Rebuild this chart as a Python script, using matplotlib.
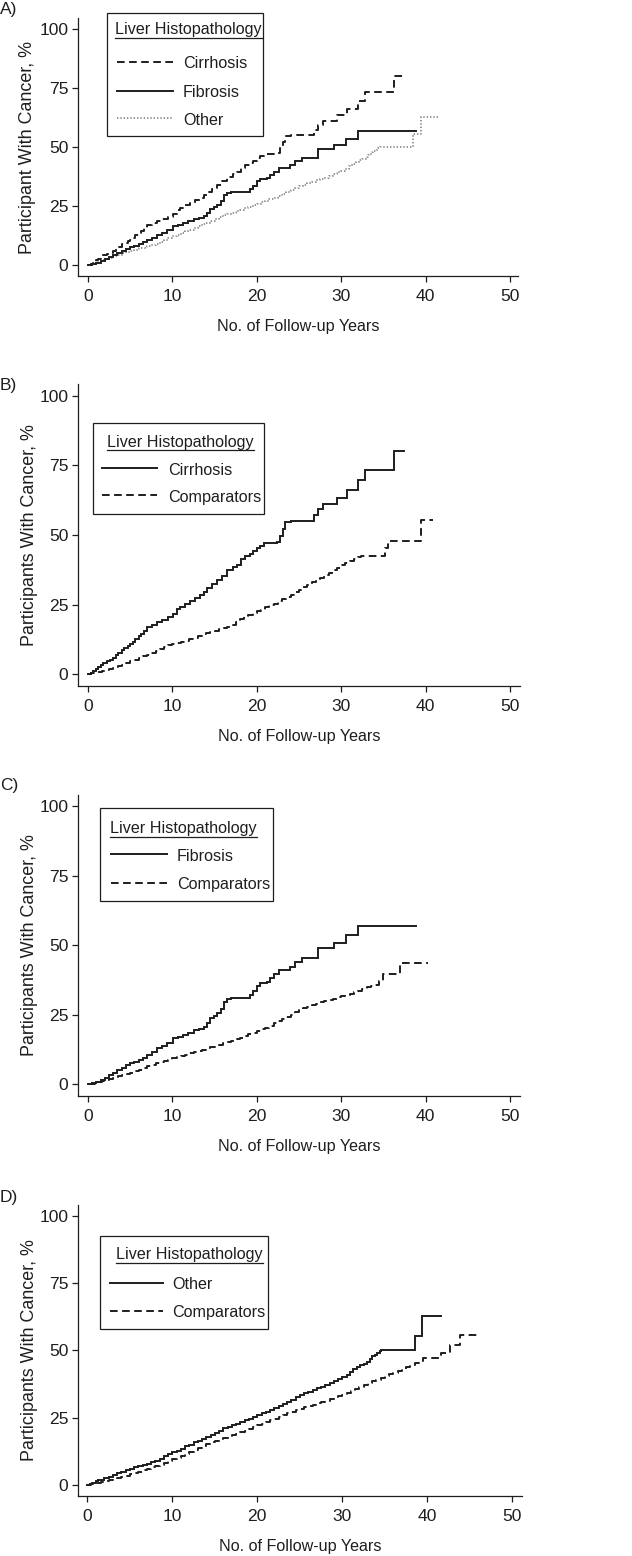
import matplotlib
matplotlib.use("Agg")
import matplotlib.pyplot as plt
from matplotlib.lines import Line2D
from matplotlib.patches import Rectangle

plt.rcParams["font.family"] = ["Liberation Sans", "DejaVu Sans"]
plt.rcParams["lines.scale_dashes"] = False

# ---------------- data ----------------
cirrhosis_t = [0, 0.3, 0.6, 0.9, 1.2, 1.5, 1.8, 2.2, 2.6, 3.0, 3.3, 3.6, 4.0, 4.3, 4.7,
               5.0, 5.3, 5.6, 6.0, 6.3, 6.6, 7.0, 7.6, 8.2, 8.8, 9.5, 10.1, 10.5, 10.9,
               11.5, 12.1, 12.7, 13.3, 13.8, 14.1, 14.7, 15.3, 15.9, 16.5, 17.2, 17.7,
               18.1, 18.6, 19.2, 19.6, 20.0, 20.4, 20.8, 22.4, 22.8, 23.1, 23.4, 24.0,
               26.8, 27.3, 27.8, 29.5, 30.7, 32.0, 32.8, 36.3, 37.4]
cirrhosis_y = [0, 0.6, 1.3, 2.0, 2.6, 3.4, 4.2, 4.6, 5.0, 5.8, 6.8, 7.8, 8.8, 9.5, 10.1,
               10.8, 11.6, 12.6, 13.6, 14.6, 15.6, 16.8, 17.6, 18.6, 19.5, 20.5, 21.6, 23.3,
               24.3, 25.3, 26.3, 27.4, 28.6, 29.5, 31.0, 32.4, 33.8, 35.4, 37.3, 38.5, 39.2,
               41.3, 42.4, 43.2, 44.2, 45.3, 46.2, 47.0, 47.4, 49.5, 52.0, 54.5, 55.2,
               57.0, 59.3, 61.1, 63.4, 66.0, 69.6, 73.3, 80.0, 80.0]

fibrosis_t = [0, 0.5, 1.0, 1.5, 2.0, 2.5, 3.0, 3.4, 4.0, 4.5, 5.0, 5.4, 6.0, 6.5, 7.0,
              7.6, 8.2, 8.8, 9.4, 10.1, 10.7, 11.3, 11.9, 12.5, 13.1, 13.7, 14.1, 14.5,
              14.9, 15.3, 15.7, 16.1, 16.5, 16.9, 19.2, 19.6, 20.0, 20.4, 21.2, 21.6,
              22.0, 22.6, 23.9, 24.5, 25.3, 27.3, 29.1, 30.6, 32.0, 38.9]
fibrosis_y = [0, 0.5, 1.0, 1.6, 2.4, 3.2, 4.2, 5.1, 6.0, 6.8, 7.5, 8.1, 8.8, 9.6, 10.5,
              11.6, 12.9, 13.6, 14.7, 16.5, 17.0, 17.7, 18.5, 19.5, 19.9, 20.7, 22.0, 23.7,
              24.7, 25.5, 27.0, 29.7, 30.5, 30.9, 32.0, 33.5, 35.5, 36.3, 36.9, 38.3,
              39.6, 41.1, 42.3, 44.1, 45.3, 49.1, 50.9, 53.6, 56.9, 56.9]

other_t = [0, 0.3, 0.6, 1.0, 1.3, 1.6, 2.0, 2.5, 3.0, 3.5, 4.0, 4.5, 5.0, 5.5, 6.0, 6.5,
           7.0, 7.5, 8.0, 8.5, 9.0, 9.5, 10.0, 10.5, 11.0, 11.5, 12.0, 12.5, 13.0, 13.5,
           14.0, 14.5, 15.0, 15.5, 16.0, 16.5, 17.0, 17.5, 18.0, 18.5, 19.0, 19.5, 20.0,
           20.5, 21.0, 21.5, 22.0, 22.5, 23.0, 23.5, 24.0, 24.5, 25.0, 25.5, 26.0, 26.5,
           27.0, 27.5, 28.0, 28.5, 29.0, 29.5, 30.0, 30.5, 30.9, 31.3, 31.7, 32.1, 32.5,
           32.9, 33.2, 33.5, 33.8, 34.1, 34.4, 34.6, 38.5, 39.4, 41.6]
other_y = [0, 0.4, 0.9, 1.5, 1.8, 2.0, 2.5, 3.1, 3.7, 4.3, 4.9, 5.5, 6.0, 6.5, 7.0, 7.4,
           7.9, 8.4, 9.0, 9.8, 10.6, 11.6, 12.2, 12.8, 13.5, 14.3, 15.0, 15.8, 16.5, 17.2,
           17.8, 18.5, 19.3, 20.2, 21.0, 21.6, 22.1, 22.8, 23.4, 24.0, 24.6, 25.3, 26.0,
           26.6, 27.1, 27.8, 28.6, 29.3, 30.0, 30.8, 31.7, 32.6, 33.4, 34.0, 34.6, 35.3,
           35.9, 36.4, 37.0, 37.7, 38.5, 39.3, 40.0, 40.8, 42.0, 43.0, 43.8, 44.5, 45.0,
           45.8, 46.8, 47.8, 48.4, 48.9, 49.6, 50.1, 55.3, 62.6, 62.6]

comp_b_t = [0, 0.4, 0.8, 1.2, 1.6, 2.0, 2.5, 3.0, 3.5, 4.0, 4.5, 5.0, 5.5, 6.0, 6.5, 7.0,
            7.5, 8.0, 8.5, 9.0, 9.5, 10.0, 10.5, 11.0, 11.5, 12.0, 12.5, 13.0, 13.5, 14.0,
            14.5, 15.0, 15.5, 16.0, 16.5, 17.0, 17.5, 18.0, 18.5, 19.0, 19.5, 20.0, 20.5,
            21.0, 21.5, 22.0, 22.5, 23.0, 23.5, 24.0, 24.5, 25.0, 25.5, 26.0, 26.5, 27.0,
            27.5, 28.0, 28.5, 29.0, 29.5, 30.0, 30.5, 31.0, 31.5, 32.0, 32.4, 35.2, 35.5,
            39.4, 40.9]
comp_b_y = [0, 0.3, 0.6, 0.9, 1.3, 1.6, 2.0, 2.4, 2.9, 3.5, 4.0, 4.6, 5.2, 5.8, 6.4, 7.0,
            7.6, 8.3, 9.0, 9.7, 10.4, 11.0, 11.3, 11.6, 12.0, 12.6, 13.2, 13.8, 14.3, 14.7,
            15.1, 15.6, 16.1, 16.6, 17.1, 17.8, 18.8, 19.9, 20.8, 21.4, 22.0, 22.6, 23.2,
            24.0, 24.7, 25.4, 26.2, 27.0, 27.7, 28.5, 29.4, 30.3, 31.2, 32.1, 33.0, 33.8,
            34.7, 35.6, 36.5, 37.4, 38.3, 39.2, 40.0, 40.7, 41.4, 42.0, 42.3, 45.3, 47.8,
            55.4, 55.4]

comp_c_t = [0, 0.4, 0.8, 1.2, 1.6, 2.0, 2.5, 3.0, 3.5, 4.0, 4.5, 5.0, 5.5, 6.0, 6.5, 7.0,
            7.5, 8.0, 8.5, 9.0, 9.5, 10.0, 10.5, 11.0, 11.5, 12.0, 12.5, 13.0, 13.5, 14.0,
            14.5, 15.0, 15.5, 16.0, 16.5, 17.0, 17.5, 18.0, 18.5, 19.0, 19.5, 20.0, 20.5,
            21.0, 21.5, 22.0, 22.5, 23.0, 23.5, 24.0, 24.5, 25.0, 25.5, 26.0, 26.5, 27.0,
            27.5, 28.0, 28.5, 29.0, 29.5, 30.0, 30.5, 31.0, 31.5, 32.0, 32.5, 33.0, 33.5,
            34.0, 34.5, 35.0, 37.0, 40.3]
comp_c_y = [0, 0.2, 0.5, 0.8, 1.1, 1.4, 1.9, 2.4, 2.9, 3.3, 3.8, 4.2, 4.7, 5.3, 5.8, 6.4,
            7.0, 7.5, 7.9, 8.3, 8.8, 9.3, 9.7, 10.2, 10.7, 11.2, 11.6, 12.0, 12.5, 12.9,
            13.4, 13.8, 14.3, 14.7, 15.2, 15.7, 16.2, 16.8, 17.4, 18.0, 18.6, 19.2, 19.8,
            20.4, 21.1, 21.9, 22.6, 23.3, 24.2, 25.0, 25.8, 26.7, 27.3, 27.8, 28.4, 29.0,
            29.5, 29.9, 30.4, 30.8, 31.2, 31.6, 32.0, 32.5, 33.0, 33.6, 34.4, 35.0, 35.3,
            35.8, 37.0, 39.6, 43.7, 43.7]

comp_d_t = [0, 0.4, 0.8, 1.2, 1.6, 2.0, 2.5, 3.0, 3.5, 4.0, 4.5, 5.0, 5.5, 6.0, 6.5, 7.0,
            7.5, 8.0, 8.5, 9.0, 9.5, 10.0, 10.5, 11.0, 11.5, 12.0, 12.5, 13.0, 13.5, 14.0,
            14.5, 15.0, 15.5, 16.0, 16.5, 17.0, 17.5, 18.0, 18.5, 19.0, 19.5, 20.0, 20.5,
            21.0, 21.5, 22.0, 22.5, 23.0, 23.5, 24.0, 24.5, 25.0, 25.5, 26.0, 26.5, 27.0,
            27.5, 28.0, 28.5, 29.0, 29.5, 30.0, 30.5, 31.0, 31.5, 32.0, 32.5, 33.0, 33.5,
            34.0, 34.5, 35.0, 35.5, 36.0, 36.5, 37.0, 37.5, 38.0, 38.5, 39.0, 39.5, 41.6,
            42.7, 43.8, 46.2]
comp_d_y = [0, 0.3, 0.6, 0.9, 1.2, 1.5, 1.9, 2.2, 2.6, 3.0, 3.5, 3.9, 4.4, 4.9, 5.4, 5.9,
            6.5, 7.0, 7.6, 8.3, 8.9, 9.5, 10.1, 10.7, 11.4, 12.1, 12.9, 13.7, 14.4, 15.1,
            15.8, 16.4, 17.0, 17.4, 17.9, 18.4, 18.9, 19.5, 20.2, 20.8, 21.5, 22.1, 22.7,
            23.4, 24.0, 24.6, 25.3, 25.9, 26.6, 27.2, 27.8, 28.4, 28.9, 29.4, 29.8, 30.3,
            30.8, 31.3, 31.8, 32.3, 32.9, 33.5, 34.1, 34.8, 35.6, 36.3, 37.1, 37.8, 38.5,
            39.1, 39.8, 40.5, 41.2, 41.7, 42.3, 43.0, 43.8, 44.6, 45.3, 46.2, 47.0, 49.1,
            52.0, 55.7, 55.7]

x_ticks = [0, 10, 20, 30, 40, 50]
y_ticks = [0, 25, 50, 75, 100]
legend_title = "Liver Histopathology"
x_label = "No. of Follow-up Years"

# ---------------- layout helpers ----------------
W, H = 632, 1556
fig = plt.figure(figsize=(W / 100, H / 100), dpi=100)
fig.patch.set_facecolor("white")
INK = "#1e1e1e"

SOLID = dict(color=INK, lw=1.4, ls="-")
DASHED = dict(color=INK, lw=1.4, ls=(0, (5.5, 3.2)))
DOTTED = dict(color="#8c8c8c", lw=1.3, ls=(0, (1.0, 1.4)))

TXT = 11.6
TICK = 12.6


def fx(x):
    return x / W


def fy(y):
    return 1 - y / H


def make_axes(left, right, top, bottom, x0, x50, y0, y100, ylabel, ylabel_x):
    ax = fig.add_axes([fx(left), fy(bottom), (right - left) / W, (bottom - top) / H])
    sx = (x50 - x0) / 50.0
    sy = (y0 - y100) / 100.0
    ax.set_xlim((left - x0) / sx, (right - x0) / sx)
    ax.set_ylim((y0 - bottom) / sy, (y0 - top) / sy)
    for s in ("top", "right"):
        ax.spines[s].set_visible(False)
    for s in ("left", "bottom"):
        ax.spines[s].set_linewidth(0.9)
        ax.spines[s].set_color(INK)
    ax.set_xticks(x_ticks)
    ax.set_yticks(y_ticks)
    ax.tick_params(axis="both", direction="out", length=4, width=0.9, color=INK,
                   labelsize=TICK, labelcolor=INK)
    ax.tick_params(axis="x", pad=5.5)
    ax.tick_params(axis="y", pad=3)
    ax.set_facecolor("white")
    hpx = bottom - top
    wpx = right - left
    ax.set_xlabel(x_label, fontsize=TXT, color=INK)
    ax.xaxis.label.set_va("baseline")
    ax.xaxis.set_label_coords(0.5, -(55.0) / hpx)
    ax.set_ylabel(ylabel, fontsize=12.9, color=INK)
    ax.yaxis.label.set_va("center")
    ax.yaxis.set_label_coords((ylabel_x - left) / wpx, 0.5)
    return ax


def step(ax, t, y, style):
    ax.plot(t, y, drawstyle="steps-post", solid_joinstyle="miter", **style)


renderer = fig.canvas.get_renderer()


def legend(box, title_left, title_base, line_x0, line_x1, text_x, rows):
    l, t, r, b = box
    fig.add_artist(Rectangle((fx(l), fy(b)), (r - l) / W, (b - t) / H,
                             transform=fig.transFigure, fill=False, lw=0.9, ec=INK))
    tt = fig.text(fx(title_left), fy(title_base), legend_title, fontsize=TXT,
                  color=INK, ha="left", va="baseline")
    bb = tt.get_window_extent(renderer)
    fig.add_artist(Line2D([bb.x0 / W, bb.x1 / W], [fy(title_base + 3.2)] * 2,
                          transform=fig.transFigure, color=INK, lw=0.9))
    for label, style, ly, tb in rows:
        fig.add_artist(Line2D([fx(line_x0), fx(line_x1)], [fy(ly)] * 2,
                              transform=fig.transFigure, **style))
        fig.text(fx(text_x), fy(tb), label, fontsize=TXT, color=INK,
                 ha="left", va="baseline")


def letter(txt, base):
    fig.text(fx(0), fy(base), txt, fontsize=12.5, color=INK, ha="left", va="baseline")


# ---------------- Panel A ----------------
axA = make_axes(78, 518, 18, 276, 88, 510, 265, 29, "Participant With Cancer, %", 28)
step(axA, other_t, other_y, DOTTED)
step(axA, fibrosis_t, fibrosis_y, SOLID)
step(axA, cirrhosis_t, cirrhosis_y, DASHED)
legend((107, 13, 263, 136), 115, 34.3, 117, 173, 183,
       [("Cirrhosis", DASHED, 62, 68.3),
        ("Fibrosis", SOLID, 90.7, 96.7),
        ("Other", DOTTED, 118.3, 125)])
letter("A)", 14)

# ---------------- Panel B ----------------
axB = make_axes(78, 520, 384, 685.7, 88, 510, 674.3, 395.7, "Participants With Cancer, %", 30)
step(axB, comp_b_t, comp_b_y, DASHED)
step(axB, cirrhosis_t, cirrhosis_y, SOLID)
legend((93, 423, 264, 514), 107, 446.7, 102, 157, 168,
       [("Cirrhosis", SOLID, 468.3, 475),
        ("Comparators", DASHED, 495, 501.7)])
letter("B)", 390)

# ---------------- Panel C ----------------
axC = make_axes(78, 520, 795, 1096, 88, 510, 1084.3, 806, "Participants With Cancer, %", 30)
step(axC, comp_c_t, comp_c_y, DASHED)
step(axC, fibrosis_t, fibrosis_y, SOLID)
legend((100, 808, 273, 901), 110, 833.3, 111, 167, 177,
       [("Fibrosis", SOLID, 854, 860.7),
        ("Comparators", DASHED, 882.7, 889.3)])
letter("C)", 790)

# ---------------- Panel D ----------------
axD = make_axes(78, 521.7, 1205, 1496, 87.3, 512.3, 1485, 1215.7, "Participants With Cancer, %", 30)
step(axD, comp_d_t, comp_d_y, DASHED)
step(axD, other_t, other_y, SOLID)
legend((100, 1236, 268, 1329), 116, 1259.3, 110, 163, 172,
       [("Other", SOLID, 1282.7, 1289.3),
        ("Comparators", DASHED, 1310.7, 1317.3)])
letter("D)", 1201.7)

fig.savefig("out.png", dpi=100, facecolor="white")
